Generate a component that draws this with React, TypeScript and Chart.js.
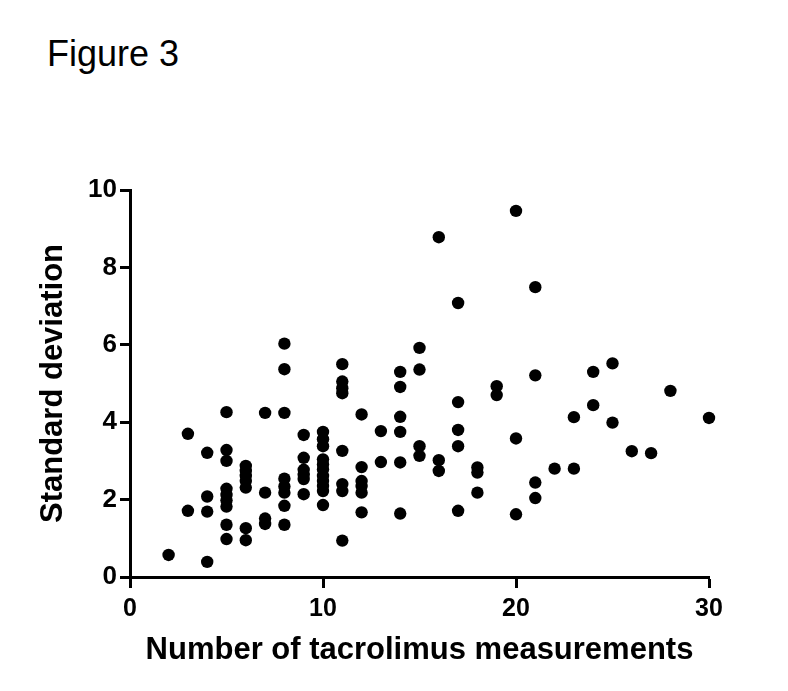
import React, { useEffect, useRef } from "react";
import { Chart, registerables } from "chart.js";

Chart.register(...registerables);

const FIGURE_TITLE = "Figure 3";
const X_TITLE = "Number of tacrolimus measurements";
const Y_TITLE = "Standard deviation";
const X_TICKS = [0, 10, 20, 30];
const Y_TICKS = [0, 2, 4, 6, 8, 10];

// number of tacrolimus measurements per patient
const measurementCounts = [
  2,
  3, 3,
  4, 4, 4, 4,
  5, 5, 5, 5, 5, 5, 5, 5, 5,
  6, 6, 6, 6, 6, 6, 6,
  7, 7, 7, 7,
  8, 8, 8, 8, 8, 8, 8, 8,
  9, 9, 9, 9, 9, 9,
  10, 10, 10, 10, 10, 10, 10, 10, 10, 10, 10,
  11, 11, 11, 11, 11, 11, 11, 11,
  12, 12, 12, 12, 12, 12,
  13, 13,
  14, 14, 14, 14, 14, 14,
  15, 15, 15, 15,
  16, 16, 16,
  17, 17, 17, 17, 17,
  18, 18, 18,
  19, 19,
  20, 20, 20,
  21, 21, 21, 21,
  22,
  23, 23,
  24, 24,
  25, 25,
  26,
  27,
  28,
  30,
];

// standard deviation of tacrolimus levels per patient
const standardDeviations = [
  0.57,
  3.7, 1.71,
  3.21, 2.08, 1.69, 0.39,
  4.26, 3.28, 3.0, 2.28, 2.12, 1.98, 1.82, 1.35, 0.98,
  2.87, 2.74, 2.61, 2.48, 2.31, 1.26, 0.95,
  4.24, 2.18, 1.51, 1.37,
  6.03, 5.37, 4.24, 2.54, 2.34, 2.18, 1.84, 1.35,
  3.67, 3.08, 2.77, 2.64, 2.53, 2.14,
  3.75, 3.56, 3.38, 3.04, 2.91, 2.78, 2.61, 2.48, 2.35, 2.22, 1.86,
  5.5, 5.05, 4.88, 4.75, 3.26, 2.4, 2.22, 0.94,
  4.2, 2.84, 2.48, 2.35, 2.18, 1.67,
  3.77, 2.97,
  5.3, 4.91, 4.14, 3.75, 2.96, 1.64,
  5.92, 5.36, 3.38, 3.13,
  8.78, 3.02, 2.74,
  7.08, 4.52, 3.8, 3.38, 1.71,
  2.83, 2.7, 2.18,
  4.93, 4.7,
  9.46, 3.58, 1.62,
  7.49, 5.21, 2.44, 2.04,
  2.8,
  4.13, 2.8,
  5.3, 4.44,
  5.52, 3.99,
  3.25,
  3.2,
  4.81,
  4.11,
];

const FONT = 'Arial, "Liberation Sans", Helvetica, sans-serif';

export default function App() {
  const canvasRef = useRef<HTMLCanvasElement | null>(null);

  useEffect(() => {
    if (!canvasRef.current) return;
    const points = measurementCounts.map((x, i) => ({ x, y: standardDeviations[i] }));
    const chart = new Chart(canvasRef.current, {
      type: "scatter",
      data: {
        datasets: [
          {
            data: points,
            backgroundColor: "#000000",
            borderColor: "#000000",
            borderWidth: 0,
            pointRadius: 6.2,
            pointHoverRadius: 6.2,
            clip: false,
          },
        ],
      },
      options: {
        animation: false,
        responsive: false,
        maintainAspectRatio: false,
        layout: { padding: { top: 190, right: 79, left: 0, bottom: 0 } },
        plugins: {
          legend: { display: false },
          tooltip: { enabled: false },
          title: { display: false },
        },
        scales: {
          x: {
            type: "linear",
            min: 0,
            max: 30,
            afterFit: (s: any) => {
              s.height = 114;
            },
            afterBuildTicks: (s: any) => {
              s.ticks = X_TICKS.map((v) => ({ value: v }));
            },
            border: { display: true, color: "#000000", width: 3 },
            grid: {
              display: true,
              drawOnChartArea: false,
              drawTicks: true,
              tickLength: 11,
              tickWidth: 3,
              tickColor: "#000000",
            },
            ticks: {
              color: "#000000",
              padding: 6,
              maxRotation: 0,
              font: { family: FONT, size: 25, weight: "bold" },
            },
            title: {
              display: true,
              text: X_TITLE,
              color: "#000000",
              padding: { top: 0, bottom: 22 },
              font: { family: FONT, size: 31, weight: "bold" },
            },
          },
          y: {
            type: "linear",
            min: 0,
            max: 10,
            afterFit: (s: any) => {
              s.width = 130;
            },
            afterBuildTicks: (s: any) => {
              s.ticks = Y_TICKS.map((v) => ({ value: v }));
            },
            border: { display: true, color: "#000000", width: 3 },
            grid: {
              display: true,
              drawOnChartArea: false,
              drawTicks: true,
              tickLength: 10,
              tickWidth: 3,
              tickColor: "#000000",
            },
            ticks: {
              color: "#000000",
              padding: 3,
              font: { family: FONT, size: 26, weight: "bold" },
            },
            title: {
              display: true,
              text: Y_TITLE,
              color: "#000000",
              padding: { top: 35, bottom: 0 },
              font: { family: FONT, size: 31, weight: "bold" },
            },
          },
        },
      },
    });
    return () => chart.destroy();
  }, []);

  return (
    <div
      style={{
        position: "absolute",
        left: 0,
        top: 0,
        width: 788,
        height: 691,
        background: "#ffffff",
        overflow: "hidden",
      }}
    >
      <div
        style={{
          position: "absolute",
          left: 47,
          top: 36,
          fontFamily: FONT,
          fontSize: 36,
          lineHeight: "36px",
          color: "#000000",
          whiteSpace: "nowrap",
        }}
      >
        {FIGURE_TITLE}
      </div>
      <canvas
        ref={canvasRef}
        width={788}
        height={691}
        style={{ position: "absolute", left: 0, top: 0, width: 788, height: 691 }}
      />
    </div>
  );
}
